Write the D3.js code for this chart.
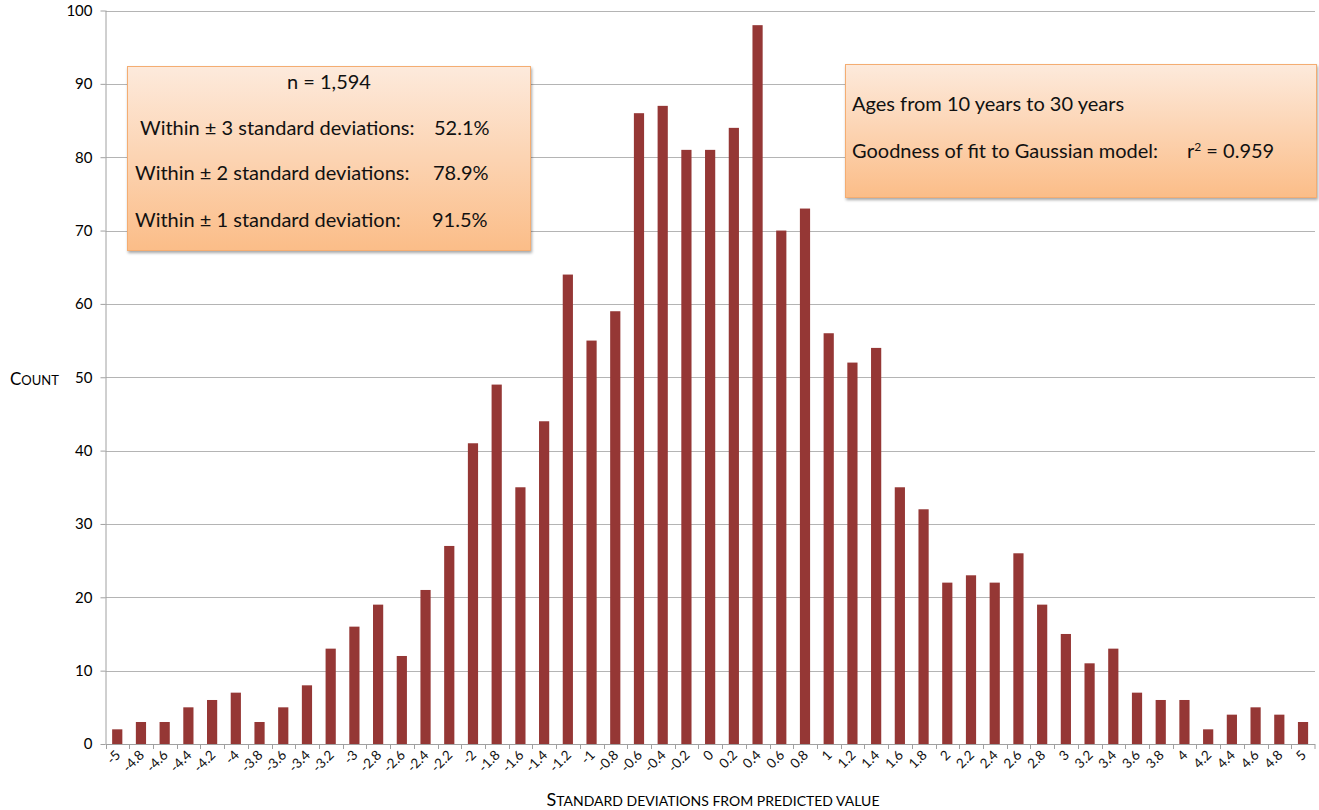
<!DOCTYPE html>
<meta charset="utf-8">
<script src="https://cdn.jsdelivr.net/npm/d3@7"></script>
<style>
body { margin: 0; background: #fff; }
.tick text { font-family: "Lato", sans-serif; }
.note { font-family: "Lato", sans-serif; font-size: 20px; fill: #111; }
</style>
<body>
<script>
  // bins of the histogram (standard deviations) and their counts
  var categories = ["-5","-4.8","-4.6","-4.4","-4.2","-4","-3.8","-3.6","-3.4","-3.2",
                    "-3","-2.8","-2.6","-2.4","-2.2","-2","-1.8","-1.6","-1.4","-1.2",
                    "-1","-0.8","-0.6","-0.4","-0.2","0","0.2","0.4","0.6","0.8",
                    "1","1.2","1.4","1.6","1.8","2","2.2","2.4","2.6","2.8",
                    "3","3.2","3.4","3.6","3.8","4","4.2","4.4","4.6","4.8","5"];
  var counts = [2,3,3,5,6,7,3,5,8,13,
                16,19,12,21,27,41,49,35,44,64,
                55,59,86,87,81,81,84,98,70,73,
                56,52,54,35,32,22,23,22,26,19,
                15,11,13,7,6,6,2,4,5,4,3];
  var yTicks = [0,10,20,30,40,50,60,70,80,90,100];

  var width = 1319, height = 810;
  var plot = {left: 105.5, right: 1315, top: 10.5, bottom: 744};

  var svg = d3.select("body").append("svg")
    .attr("width", width)
    .attr("height", height);

  var defs = svg.append("defs");
  var grad = defs.append("linearGradient")
    .attr("id", "peach").attr("x1", 0).attr("y1", 0).attr("x2", 0).attr("y2", 1);
  grad.append("stop").attr("offset", "0%").attr("stop-color", "#fdeadc");
  grad.append("stop").attr("offset", "100%").attr("stop-color", "#fbbd88");
  var shadow = defs.append("filter").attr("id", "shadow")
    .attr("x", "-5%").attr("y", "-5%").attr("width", "112%").attr("height", "115%");
  shadow.append("feDropShadow").attr("dx", 1).attr("dy", 2)
    .attr("stdDeviation", 1.5).attr("flood-color", "#000").attr("flood-opacity", 0.35);

  var x = d3.scaleBand()
    .domain(categories)
    .range([plot.left, plot.right])
    .padding(0);

  var y = d3.scaleLinear()
    .domain([0, 100])
    .range([plot.bottom, plot.top]);

  // gridlines
  svg.append("g")
    .selectAll("line")
    .data(yTicks.filter(function(d) { return d > 0; }))
    .enter().append("line")
    .attr("x1", plot.left).attr("x2", plot.right)
    .attr("y1", function(d) { return Math.round(y(d)) + 0.5; })
    .attr("y2", function(d) { return Math.round(y(d)) + 0.5; })
    .attr("stroke", "#b4b4b4").attr("stroke-width", 1);

  // y axis
  var yAxis = d3.axisLeft(y).tickValues(yTicks).tickSize(5).tickPadding(8);
  var gy = svg.append("g")
    .attr("transform", "translate(" + plot.left + ",0)")
    .call(yAxis);
  gy.select(".domain").attr("stroke", "#a0a0a0").attr("d", "M0.5," + plot.top + "V" + plot.bottom);
  gy.selectAll(".tick line").attr("stroke", "#a0a0a0");
  gy.selectAll(".tick text").attr("font-size", "15px").attr("fill", "#000");

  // bars
  var bw = x.bandwidth();
  svg.append("g")
    .selectAll("rect")
    .data(counts)
    .enter().append("rect")
    .attr("x", function(d, i) { return x(categories[i]) + bw * 0.28; })
    .attr("width", bw * 0.43)
    .attr("y", function(d) { return y(d); })
    .attr("height", function(d) { return y(0) - y(d); })
    .attr("fill", "#953735");

  // x axis: ticks on band edges, labels at band centres
  var gx = svg.append("g");
  gx.append("line")
    .attr("x1", plot.left).attr("x2", plot.right)
    .attr("y1", plot.bottom + 0.5).attr("y2", plot.bottom + 0.5)
    .attr("stroke", "#a0a0a0");
  gx.selectAll(".xt")
    .data(categories.concat([null]))
    .enter().append("line")
    .attr("class", "xt")
    .attr("x1", function(d) { return d === null ? plot.right : Math.round(x(d)) + 0.5; })
    .attr("x2", function(d) { return d === null ? plot.right : Math.round(x(d)) + 0.5; })
    .attr("y1", plot.bottom).attr("y2", plot.bottom + 5)
    .attr("stroke", "#a0a0a0");
  gx.selectAll(".xl")
    .data(categories)
    .enter().append("text")
    .attr("class", "xl")
    .attr("font-family", "Lato, sans-serif")
    .attr("font-size", "13.5px")
    .attr("fill", "#111")
    .attr("text-anchor", "end")
    .attr("transform", function(d) {
      return "translate(" + (x(d) + bw / 2 + 4) + "," + (plot.bottom + 12) + ") rotate(-45)";
    })
    .text(function(d) { return d; });

  // axis titles in small caps
  var yt = svg.append("text")
    .attr("x", 10).attr("y", 385)
    .attr("font-family", "Lato, sans-serif").attr("fill", "#000");
  yt.append("tspan").attr("font-size", "17px").text("C");
  yt.append("tspan").attr("font-size", "13px").text("OUNT");

  var xt = svg.append("text")
    .attr("x", 713).attr("y", 806)
    .attr("text-anchor", "middle")
    .attr("font-family", "Lato, sans-serif").attr("fill", "#000");
  xt.append("tspan").attr("font-size", "18px").text("S");
  xt.append("tspan").attr("font-size", "14px").text("TANDARD DEVIATIONS FROM PREDICTED VALUE");

  // annotation boxes
  function box(x0, y0, w, h) {
    svg.append("rect")
      .attr("x", x0).attr("y", y0).attr("width", w).attr("height", h)
      .attr("fill", "url(#peach)")
      .attr("stroke", "#f4ad72").attr("stroke-width", 1)
      .attr("filter", "url(#shadow)");
  }

  box(127.5, 66.5, 403, 184);
  svg.append("text").attr("class", "note")
    .attr("x", 329).attr("y", 89).attr("text-anchor", "middle").text("n = 1,594");
  var left = [
    {label: "Within \u00b1 3 standard deviations:", pct: "52.1%", y: 135, lx: 140, px: 434},
    {label: "Within \u00b1 2 standard deviations:", pct: "78.9%", y: 180, lx: 135, px: 433},
    {label: "Within \u00b1 1 standard deviation:", pct: "91.5%", y: 227, lx: 135, px: 432}
  ];
  left.forEach(function(r) {
    svg.append("text").attr("class", "note").attr("x", r.lx).attr("y", r.y).text(r.label);
    svg.append("text").attr("class", "note").attr("font-size", "21.5px")
      .attr("x", r.px).attr("y", r.y).text(r.pct);
  });

  box(845.5, 64.5, 471, 133);
  svg.append("text").attr("class", "note").attr("font-size", "21px")
    .attr("x", 852).attr("y", 111).text("Ages from 10 years to 30 years");
  svg.append("text").attr("class", "note").attr("font-size", "21px")
    .attr("x", 852).attr("y", 158).text("Goodness of fit to Gaussian model:");
  var r2 = svg.append("text").attr("class", "note").attr("font-size", "21px")
    .attr("x", 1187).attr("y", 158);
  r2.append("tspan").text("r");
  r2.append("tspan").attr("font-size", "12px").attr("dy", -7).text("2");
  r2.append("tspan").attr("dy", 7).text(" = 0.959");
</script>
</body>
